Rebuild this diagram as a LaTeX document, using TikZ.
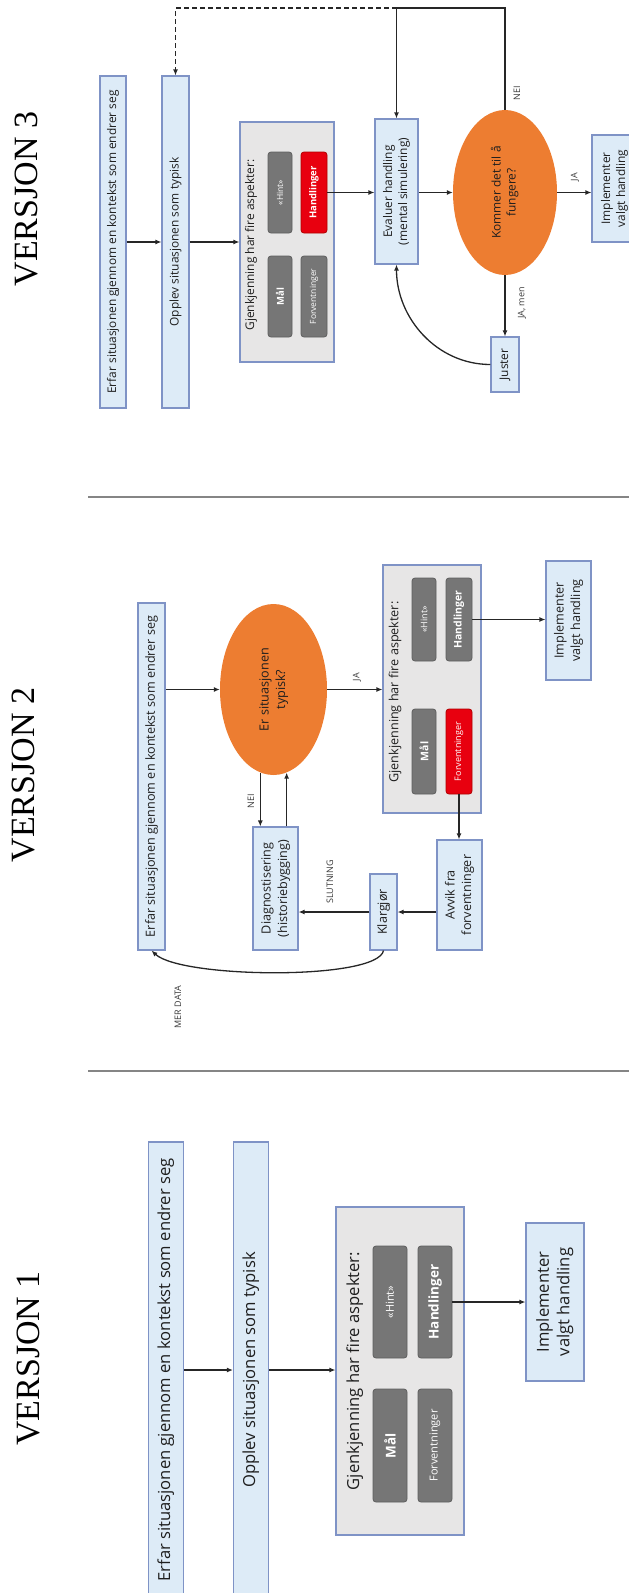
\documentclass[tikz,border=0pt]{standalone}
\usepackage{fontspec}
\setmainfont{Open Sans}
\newfontfamily\serifttl{Liberation Serif}
\usepackage{graphicx}
\usetikzlibrary{arrows.meta,shapes.geometric,calc}
\definecolor{bfill}{HTML}{DDEBF7}
\definecolor{bbord}{HTML}{7F93C6}
\definecolor{gfill}{HTML}{E7E6E6}
\definecolor{dfill}{HTML}{767676}
\definecolor{dbord}{HTML}{5E5E5E}
\definecolor{rfill}{HTML}{E8000F}
\definecolor{rbord}{HTML}{B00000}
\definecolor{ofill}{HTML}{ED7D31}
\definecolor{arrc}{HTML}{262626}
\definecolor{sepc}{HTML}{858585}
\definecolor{txtc}{HTML}{1E1E1E}
\definecolor{lblc}{HTML}{3A3A3A}
\newcommand{\rtxt}[1]{\rotatebox{90}{\begin{tabular}{@{}c@{}}#1\end{tabular}}}
\begin{document}
\begin{tikzpicture}[x=1pt,y=1pt,
 bbox/.style={draw=bbord, fill=bfill, line width=1.1pt, inner sep=0pt, text=txtc},
 gbox/.style={draw=bbord, fill=gfill, line width=1.1pt, inner sep=0pt},
 dbox/.style={draw=dbord, fill=dfill, rounded corners=3pt, line width=0.8pt, inner sep=0pt, text=white},
 rbox/.style={dbox, draw=rbord, fill=rfill},
 oval/.style={ellipse, fill=ofill, draw=none, inner sep=0pt, text=txtc},
 arr/.style={-{Latex[length=6pt,width=5pt]}, line width=1.3pt, draw=arrc},
 lin/.style={line width=1.3pt, draw=arrc},
 sepline/.style={draw=sepc, line width=2.5pt},
 vtitle/.style={font=\serifttl\fontsize{34}{40}\selectfont, inner sep=0pt, text=black},
 fa/.style={font=\fontsize{16.6}{20.5}\selectfont},
 fb/.style={font=\fontsize{12.6}{16.5}\selectfont},
 fc/.style={font=\fontsize{11.9}{15}\selectfont},
 lbl/.style={font=\fontsize{9}{10}\selectfont, text=lblc, inner sep=0pt},
]
\useasboundingbox (0,0) rectangle (629,-1593);
\clip (0,0) rectangle (629,-1593);

% separators
\draw[sepline] (88,-497) -- (629,-497);
\draw[sepline] (88,-1071) -- (629,-1071);

% ===== VERSION 3 =====
\node[vtitle] (t3) at (27,-199) {\rotatebox{90}{VERSJON 3}};
\node[bbox,fc,minimum width=26pt,minimum height=332pt] (v3erfar) at (113,-242) {\rtxt{Erfar situasjonen gjennom en kontekst som endrer seg}};
\node[bbox,fc,minimum width=27pt,minimum height=332pt] (v3opplev) at (175.5,-242) {\rtxt{Opplev situasjonen som typisk}};
\node[gbox,minimum width=94pt,minimum height=240pt] (v3gjenk) at (287,-242) {};
\node[fc,text=txtc,inner sep=0pt] (v3gjenkt) at (251,-245) {\rtxt{Gjenkjenning har fire aspekter:}};
\node[dbox,minimum width=24pt,minimum height=81pt,font=\fontsize{8.5}{9}\selectfont] (v3hint) at (280,-192.5) {\rotatebox{90}{«Hint»}};
\node[rbox,minimum width=26pt,minimum height=81pt,font=\bfseries\fontsize{9.5}{10}\selectfont] (v3handl) at (314,-192.5) {\rotatebox{90}{Handlinger}};
\node[dbox,minimum width=24pt,minimum height=81pt,font=\bfseries\fontsize{9.5}{10}\selectfont] (v3maal) at (280,-296.5) {\rotatebox{90}{Mål}};
\node[dbox,minimum width=26pt,minimum height=81pt,font=\fontsize{8.5}{9}\selectfont] (v3forv) at (314,-296.5) {\rotatebox{90}{Forventninger}};
\node[bbox,fc,minimum width=43pt,minimum height=145pt] (v3eval) at (396.5,-191.5) {\rtxt{Evaluer handling\\(mental simulering)}};
\node[oval,fc,minimum width=104pt,minimum height=165pt] (v3oval) at (505,-192.5) {\rtxt{Kommer det til å\\fungere?}};
\node[bbox,fc,minimum width=45pt,minimum height=107pt] (v3impl) at (614.5,-188.5) {\rtxt{Implementer\\valgt handling}};
\node[bbox,fc,minimum width=28pt,minimum height=55pt] (v3just) at (505,-364.5) {\rtxt{Juster}};
\coordinate (v3nei) at (505,-8);

\draw[arr] (v3erfar.east) -- (v3opplev.west);
\draw[arr] (v3opplev.east) -- (v3gjenk.west);
\draw[arr] (v3handl.east) -- (v3eval.west |- v3handl.east);
\draw[arr] (v3eval.east |- v3oval.west) -- (v3oval.west);
\draw[arr] (v3oval.east) -- (v3impl.west |- v3oval.east);
\draw[lin] (v3oval.north) -- (v3nei) -- (v3eval.north |- v3nei);
\draw[arr] (v3eval.north |- v3nei) -- (v3eval.north);
\draw[arr,dash pattern=on 5pt off 3pt] (v3eval.north |- v3nei) -- (v3opplev.north |- v3nei) -- (v3opplev.north);
\draw[arr] (v3oval.south) -- (v3just.north);
\draw[arr] (v3just.west) to[out=180,in=-90] (v3eval.south);

\node[lbl] (v3ja) at (575,-177) {\rotatebox{90}{JA}};
\node[lbl] (v3neil) at (517,-93) {\rotatebox{90}{NEI}};
\node[lbl] (v3jamen) at (522,-303) {\rotatebox{90}{JA, men}};

% ===== VERSION 2 =====
\node[vtitle] (t2) at (24,-775) {\rotatebox{90}{VERSJON 2}};
\node[bbox,fb,minimum width=27pt,minimum height=347pt] (v2erfar) at (151.5,-776.5) {\rtxt{Erfar situasjonen gjennom en kontekst som endrer seg}};
\node[oval,fb,minimum width=107pt,minimum height=171pt] (v2oval) at (273.5,-689.5) {\rtxt{Er situasjonen\\typisk?}};
\node[gbox,minimum width=98pt,minimum height=248pt] (v2gjenk) at (432,-689) {};
\node[fb,text=txtc,inner sep=0pt] (v2gjenkt) at (395,-692) {\rtxt{Gjenkjenning har fire aspekter:}};
\node[dbox,minimum width=24pt,minimum height=83pt,font=\fontsize{9}{10}\selectfont] (v2hint) at (424,-619.5) {\rotatebox{90}{«Hint»}};
\node[dbox,minimum width=26pt,minimum height=83pt,font=\bfseries\fontsize{10.5}{12}\selectfont] (v2handl) at (459,-619.5) {\rotatebox{90}{Handlinger}};
\node[dbox,minimum width=24pt,minimum height=85pt,font=\bfseries\fontsize{10.5}{12}\selectfont] (v2maal) at (424,-751.5) {\rotatebox{90}{Mål}};
\node[rbox,minimum width=26pt,minimum height=85pt,font=\fontsize{9}{10}\selectfont] (v2forv) at (459,-751.5) {\rotatebox{90}{Forventninger}};
\node[bbox,fb,minimum width=45pt,minimum height=119pt] (v2impl) at (568.5,-620.5) {\rtxt{Implementer\\valgt handling}};
\node[bbox,fb,minimum width=45pt,minimum height=110pt] (v2avvik) at (459.5,-895) {\rtxt{Avvik fra\\forventninger}};
\node[bbox,fb,minimum width=27pt,minimum height=76pt] (v2klar) at (383.5,-912) {\rtxt{Klargjør}};
\node[bbox,fb,minimum width=45pt,minimum height=123pt] (v2diag) at (275.5,-888.5) {\rtxt{Diagnostisering\\(historiebygging)}};

\draw[arr] (v2erfar.east |- v2oval.west) -- (v2oval.west);
\draw[arr] (v2oval.east) -- (v2gjenk.west |- v2oval.east);
\draw[arr] (v2handl.east) -- (v2impl.west |- v2handl.east);
\draw[arr] (v2forv.south) -- (v2forv.south |- v2avvik.north);
\draw[arr] (v2avvik.west |- v2klar.east) -- (v2klar.east);
\draw[arr] (v2klar.west) -- (v2diag.east |- v2klar.west);
\draw[arr] (v2oval.261.45) -- (v2oval.261.45 |- v2diag.north);
\draw[arr] (v2oval.279.28 |- v2diag.north) -- (v2oval.279.28);
\draw[arr] (v2klar.south) .. controls +(-6,-30) and +(30,-28) .. (v2erfar.south);

\node[lbl] (v2ja) at (357,-677) {\rotatebox{90}{JA}};
\node[lbl] (v2neil) at (251,-801) {\rotatebox{90}{NEI}};
\node[lbl] (v2slut) at (330,-882) {\rotatebox{90}{SLUTNING}};
\node[lbl] (v2mer) at (178,-1007) {\rotatebox{90}{MER DATA}};

% ===== VERSION 1 =====
\node[vtitle] (t1) at (29,-1358.5) {\rotatebox{90}{VERSJON 1}};
\node[bbox,fa,minimum width=35pt,minimum height=456pt] (v1erfar) at (166,-1370) {\rtxt{Erfar situasjonen gjennom en kontekst som endrer seg}};
\node[bbox,fa,minimum width=35pt,minimum height=456pt] (v1opplev) at (251,-1370) {\rtxt{Opplev situasjonen som typisk}};
\node[gbox,minimum width=128pt,minimum height=328pt] (v1gjenk) at (400,-1371) {};
\node[fa,text=txtc,inner sep=0pt] (v1gjenkt) at (355,-1371) {\rtxt{Gjenkjenning har fire aspekter:}};
\node[dbox,minimum width=34pt,minimum height=112pt,font=\fontsize{11}{12}\selectfont] (v1hint) at (390,-1302) {\rotatebox{90}{«Hint»}};
\node[dbox,minimum width=34pt,minimum height=112pt,font=\bfseries\fontsize{13.5}{15}\selectfont] (v1handl) at (435,-1302) {\rotatebox{90}{Handlinger}};
\node[dbox,minimum width=34pt,minimum height=113pt,font=\bfseries\fontsize{13.5}{15}\selectfont] (v1maal) at (390,-1445.5) {\rotatebox{90}{Mål}};
\node[dbox,minimum width=34pt,minimum height=113pt,font=\fontsize{11}{12}\selectfont] (v1forv) at (435,-1445.5) {\rotatebox{90}{Forventninger}};
\node[bbox,fa,minimum width=58pt,minimum height=158pt] (v1impl) at (555,-1302) {\rtxt{Implementer\\valgt handling}};

\draw[arr] (v1erfar.east) -- (v1opplev.west);
\draw[arr] (v1opplev.east) -- (v1gjenk.west |- v1opplev.east);
\draw[arr] (v1handl.east) -- (v1impl.west);
\end{tikzpicture}
\end{document}
